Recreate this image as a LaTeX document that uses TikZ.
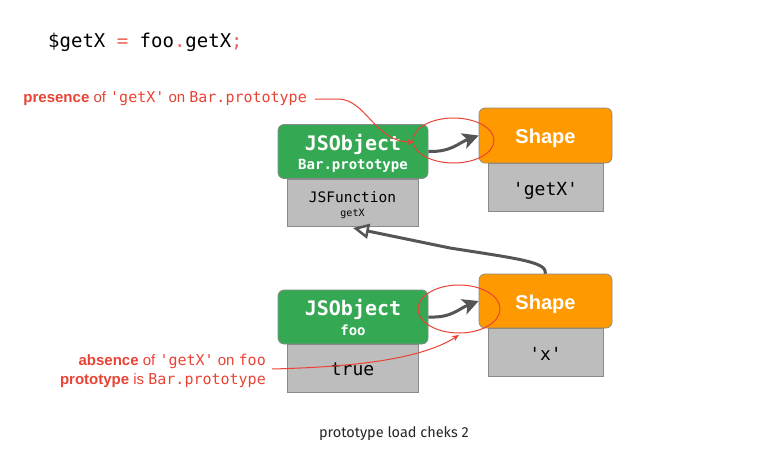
\documentclass[tikz,border=0pt]{standalone}
\usepackage{fontspec}
\setmainfont{Liberation Sans}
\setsansfont{Liberation Sans}
\setmonofont{DejaVu Sans Mono}
\newfontfamily\capfont{Fira Sans}
\usetikzlibrary{arrows.meta,shapes.geometric}
\definecolor{jsgreen}{HTML}{34A853}
\definecolor{jsorange}{HTML}{FF9900}
\definecolor{cellgray}{HTML}{BDBDBD}
\definecolor{edgegray}{HTML}{8A8A8A}
\definecolor{arrowgray}{HTML}{555555}
\definecolor{hlred}{HTML}{EA4335}
\definecolor{symred}{HTML}{EE675C}
\tikzset{
  objbox/.style={draw=edgegray, line width=0.7pt, fill=jsgreen, rounded corners=6pt, minimum width=150pt, minimum height=54pt, inner sep=0pt},
  shapebox/.style={draw=edgegray, line width=0.7pt, fill=jsorange, rounded corners=6pt, minimum width=133pt, minimum height=55pt, inner sep=0pt},
  cellbox/.style={draw=edgegray, line width=0.7pt, fill=cellgray, inner sep=0pt},
  txt/.style={inner sep=0pt, anchor=base},
  bigmono/.style={font=\ttfamily\bfseries\fontsize{20}{22}\selectfont, text=white},
  smallmono/.style={font=\ttfamily\bfseries\fontsize{14}{16}\selectfont, text=white},
  shapetxt/.style={font=\sffamily\bfseries\fontsize{20}{22}\selectfont, text=white},
  link/.style={draw=arrowgray, line width=3pt, -{Stealth[length=16pt,width=16pt,inset=4pt]}},
  inherit/.style={draw=arrowgray, line width=3pt, -{Triangle[open,length=16pt,width=15pt,fill=white,line width=2.5pt]}},
  note/.style={draw=hlred, line width=1pt, -{Stealth[length=7pt,width=6pt]}},
  ring/.style={draw=hlred, line width=1pt},
  notetxt/.style={text=hlred, inner sep=0pt, font=\fontsize{15}{18}\selectfont}
}
\begin{document}
\begin{tikzpicture}[x=1pt,y=-1pt]
\useasboundingbox (0,0) rectangle (757,455);
\fill[white] (0,0) rectangle (757,455);

% title
\node[txt, anchor=base west] (title) at (48,47) {\ttfamily\fontsize{19}{22}\selectfont \$getX {\color{symred}=} foo{\color{symred}.}getX{\color{symred};}};

% top pair
\node[cellbox, minimum width=131pt, minimum height=47pt] (p1) at (352.5,202.5) {};
\node[objbox] (g1) at (353,151.5) {};
\node[txt, bigmono] (g1a) at (353,150) {JSObject};
\node[txt, smallmono] (g1b) at (353,169) {Bar.prototype};
\node[txt, font=\ttfamily\fontsize{14.5}{16}\selectfont] (p1a) at (352.5,202) {JSFunction};
\node[txt, font=\ttfamily\fontsize{10}{12}\selectfont] (p1b) at (352.5,216) {getX};

\node[cellbox, minimum width=115pt, minimum height=48pt] (q1) at (545.5,187) {};
\node[shapebox] (o1) at (545.5,135.5) {};
\node[txt, shapetxt] (o1a) at (545.5,143) {Shape};
\node[txt, font=\ttfamily\fontsize{18}{20}\selectfont] (q1a) at (545.5,195) {'getX'};

% bottom pair
\node[cellbox, minimum width=131pt, minimum height=48pt] (p2) at (352.5,368) {};
\node[objbox] (g2) at (353,317) {};
\node[txt, bigmono] (g2a) at (353,315) {JSObject};
\node[txt, smallmono] (g2b) at (353,335) {foo};
\node[txt, font=\ttfamily\fontsize{18}{20}\selectfont] (p2a) at (352.5,375) {true};

\node[cellbox, minimum width=115pt, minimum height=48pt] (q2) at (545.5,352) {};
\node[shapebox, minimum height=54pt] (o2) at (545.5,301) {};
\node[txt, shapetxt] (o2a) at (545.5,309) {Shape};
\node[txt, font=\ttfamily\fontsize{18}{20}\selectfont] (q2a) at (545.5,360) {'x'};

% connectors
\draw[link] (g1.east) .. controls (452,152) and (458,143) .. (o1.west);
\draw[link] (g2.east) .. controls (452,318) and (458,309) .. (o2.west);
\coordinate (inhtip) at (353,228);
\draw[inherit] (o2.north) .. controls (547,262) and (520,259) .. (450,248) -- (inhtip);

% red annotations
\node[ring, ellipse, minimum width=81pt, minimum height=45pt, inner sep=0pt] (e1) at (453.5,140.5) {};
\node[ring, ellipse, minimum width=82pt, minimum height=48pt, inner sep=0pt] (e2) at (459,309) {};

\node[notetxt, anchor=base east] (n1) at (307,102) {\textbf{presence} of {\ttfamily 'getX'} on {\ttfamily Bar.prototype}};
\coordinate (n1s) at (315,99);
\coordinate (n1t) at (414,142);
\draw[note] (n1s) -- (338,99) .. controls (366,99) and (375,142) .. (n1t);

\node[notetxt, anchor=base east, align=right] (n2a) at (266,365) {\textbf{absence} of {\ttfamily 'getX'} on {\ttfamily foo}};
\node[notetxt, anchor=base east, align=right] (n2b) at (266,384) {\textbf{prototype} is {\ttfamily Bar.prototype}};
\coordinate (n2s) at (272,369);
\coordinate (n2t) at (459,335);
\draw[note] (n2s) .. controls (350,367) and (420,360) .. (n2t);

% caption
\node[txt, font=\capfont\fontsize{14.5}{17}\selectfont, text=black!85] (cap) at (394,437) {prototype load cheks 2};
\end{tikzpicture}
\end{document}
